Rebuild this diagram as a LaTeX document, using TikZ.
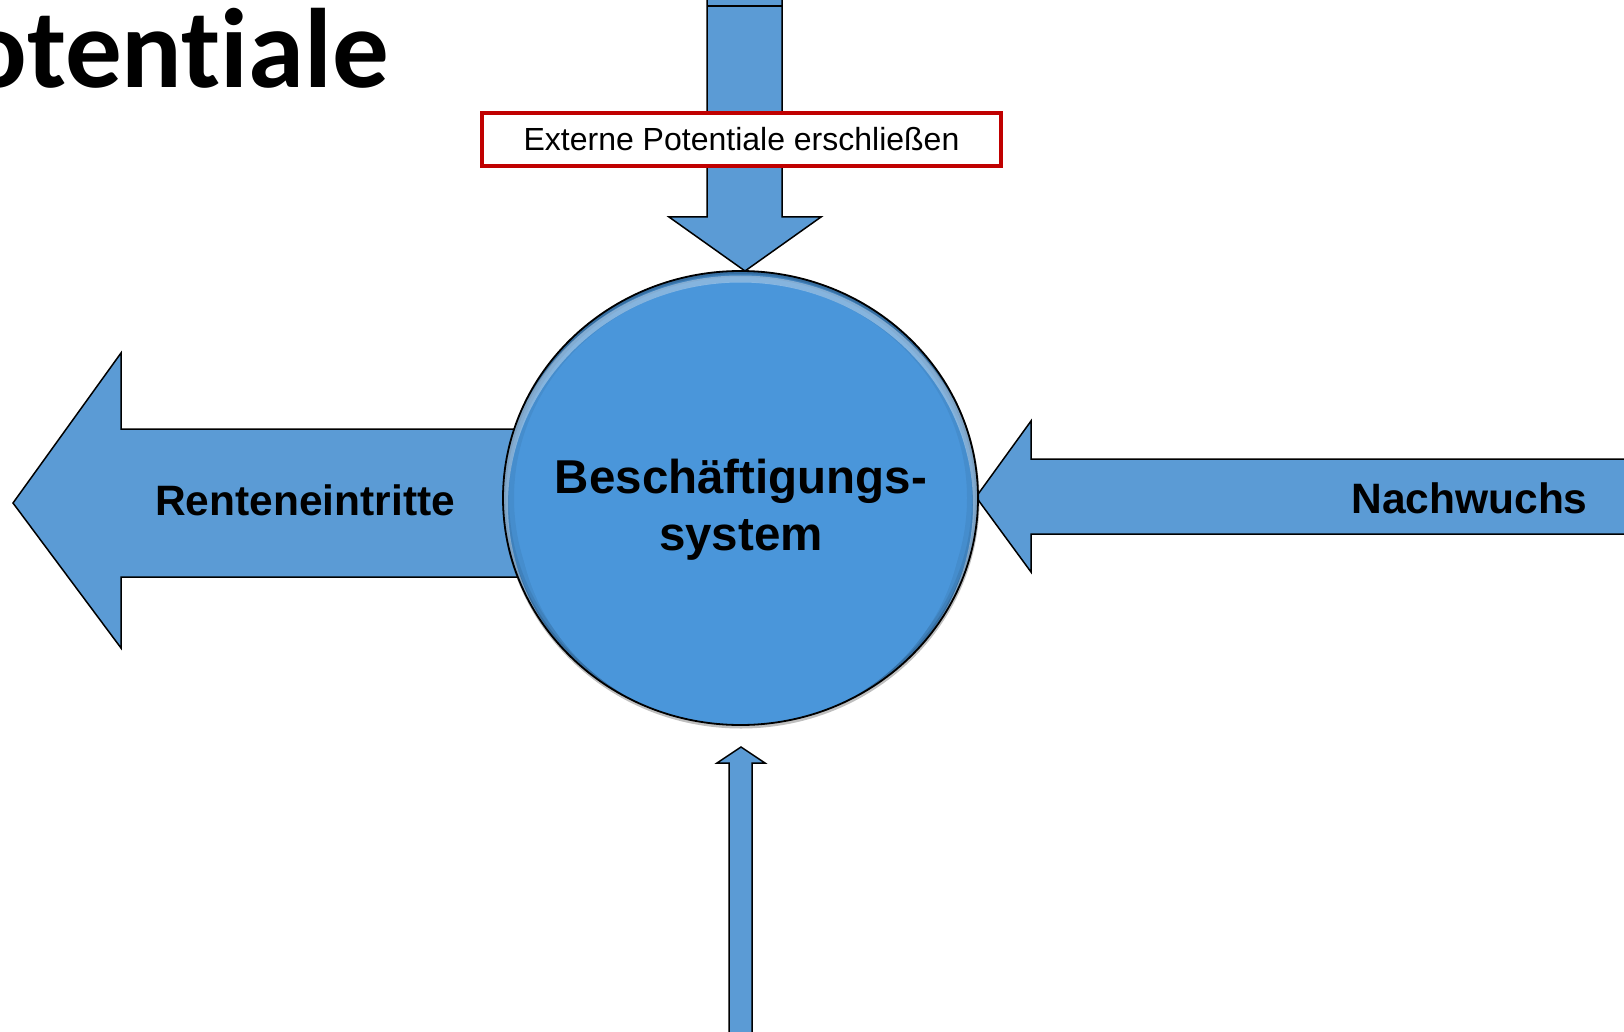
\documentclass[tikz,border=0pt]{standalone}
\usepackage{fontspec}
\setmainfont{Liberation Sans}
\newfontfamily\carlito[Ligatures=NoCommon]{Carlito}
\usetikzlibrary{shapes.geometric}
\definecolor{arrowblue}{HTML}{5B9BD5}
\definecolor{circblue}{HTML}{4A96DA}
\definecolor{boxred}{HTML}{C00000}
\tikzset{
  blockarrow/.style={fill=arrowblue, draw=black, line width=1.5pt, line join=miter},
  biglabel/.style={font=\bfseries\fontsize{42.5}{50}\selectfont, inner sep=0pt, text=black},
}
\begin{document}
\begin{tikzpicture}[x=1pt,y=-1pt]
\useasboundingbox (0,0) rectangle (1624,1032);
\fill[white] (0,0) rectangle (1624,1032);

% title (partly cut off at the left edge, as in the reference)
\node[font=\carlito\bfseries\fontsize{113}{120}\selectfont, anchor=base east, inner sep=0pt] (title) at (389,88) {otentiale};

% left arrow (Renteneintritte)
\draw[blockarrow] (13,503) -- (121,353) -- (121,429) -- (560,429) -- (560,577) -- (121,577) -- (121,648) -- cycle;
% right arrow (Nachwuchs)
\draw[blockarrow] (976,497) -- (1031,421) -- (1031,459) -- (1640,459) -- (1640,534) -- (1031,534) -- (1031,572) -- cycle;
% top arrow
\draw[blockarrow] (707,-10) -- (782,-10) -- (782,217) -- (821,217) -- (745,271) -- (669,217) -- (707,217) -- cycle;
\draw[line width=1.5pt] (707,6) -- (782,6);
% bottom arrow
\draw[blockarrow] (741,747) -- (765,763) -- (752,763) -- (752,1045) -- (729,1045) -- (729,763) -- (717,763) -- cycle;

% central circle
\fill[black, opacity=0.25] (741,500) ellipse [x radius=238.5, y radius=228.5];
\node[ellipse, minimum width=475pt, minimum height=454pt, inner sep=0pt, outer sep=0pt, fill=circblue] (sys) at (740.5,498) {};
\begin{scope}
  \clip (sys.center) ellipse [x radius=237.5, y radius=227];
  \draw[black, opacity=0.06, line width=22pt] (sys.center) ellipse [x radius=237.5, y radius=227];
  \draw[black, opacity=0.08, line width=12pt] (sys.center) ellipse [x radius=237.5, y radius=227];
  \draw[black, opacity=0.14, line width=6pt] (sys.center) ellipse [x radius=237.5, y radius=227];
  \draw[white, opacity=0.35, line width=7pt] ([shift={(0,7)}]sys.center) ellipse [x radius=236, y radius=226];
  \fill[circblue] (740.5,514) ellipse [x radius=222, y radius=212];
\end{scope}
\draw[line width=1.8pt] (sys.center) ellipse [x radius=237.5, y radius=227];

\node[biglabel, font=\bfseries\fontsize{47.5}{57}\selectfont, align=center] (systxt) at (741,510) {Beschäftigungs-\\system};
\node[biglabel] (rente) at (305,500) {Renteneintritte};
\node[biglabel] (nach) at (1469.5,498) {Nachwuchs};

% label box on top arrow
\node[draw=boxred, line width=4pt, fill=white, minimum width=519pt, minimum height=53pt, inner sep=0pt,
      font=\fontsize{32}{36}\selectfont] (ext) at (741.5,139.5) {Externe Potentiale erschließen};
\end{tikzpicture}
\end{document}
